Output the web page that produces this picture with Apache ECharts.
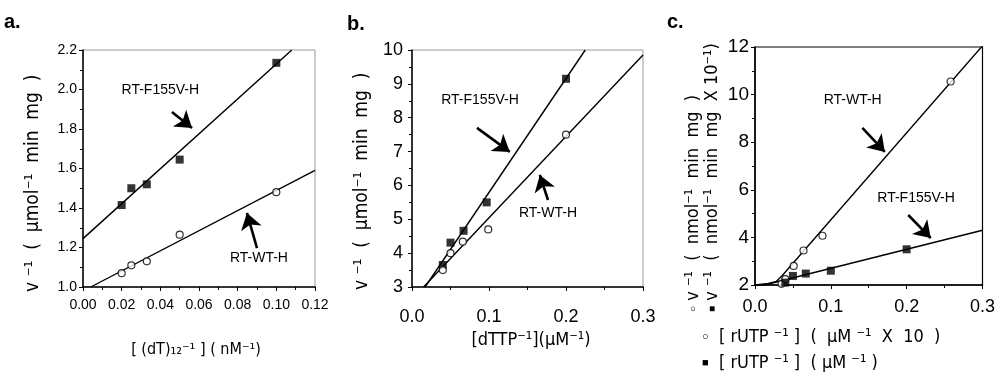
<!DOCTYPE html>
<html><head><meta charset="utf-8">
<script src="https://cdn.jsdelivr.net/npm/echarts/dist/echarts.min.js"></script>
<style>html,body{margin:0;padding:0;background:#fff}#c{width:998px;height:384px}</style>
</head><body><div id="c"></div>
<script>
// ---------- Panel a data ----------
const aX = [0.02, 0.025, 0.033, 0.05, 0.1];
const aF155V = [1.415, 1.50, 1.52, 1.645, 2.135];
const aWT = [1.07, 1.11, 1.13, 1.265, 1.48];
const aFitF155V = [[0, 1.245], [0.108, 2.2]];
const aFitWT = [[0.004, 1.0], [0.12, 1.59]];

// ---------- Panel b data ----------
const bX = [0.04, 0.05, 0.067, 0.097, 0.2];
const bF155V = [3.65, 4.31, 4.66, 5.5, 9.15];
const bXWT = [0.04, 0.05, 0.066, 0.099, 0.2];
const bWT = [3.5, 4.0, 4.34, 4.7, 7.5];
const bFitF155V = [[0.017, 3.0], [0.225, 10.0]];
const bFitWT = [[0.015, 3.0], [0.3, 9.85]];

// ---------- Panel c data ----------
const cXWT = [0.035, 0.04, 0.051, 0.064, 0.089, 0.258];
const cWT = [2.05, 2.25, 2.8, 3.45, 4.07, 10.55];
const cXF155V = [0.04, 0.05, 0.067, 0.1, 0.2];
const cF155V = [2.1, 2.38, 2.48, 2.6, 3.5];
const cFitWT = [[0.0, 2.0], [0.015, 2.05], [0.028, 2.15], [0.036, 2.4], [0.3, 12.05]];
const cFitF155V = [[0.0, 2.0], [0.0125, 2.0], [0.3, 4.3]];

// ---------- tick labels / ranges ----------
const aXTicks = {min: 0, max: 0.12, interval: 0.02, digits: 2};
const aYTicks = {min: 1.0, max: 2.2, interval: 0.2, digits: 1};
const bXTicks = {min: 0, max: 0.3, interval: 0.1, digits: 1};
const bYTicks = {min: 3, max: 10, interval: 1, digits: 0};
const cXTicks = {min: 0, max: 0.3, interval: 0.1, digits: 1};
const cYTicks = {min: 2, max: 12, interval: 2, digits: 0};

const labelF155V = 'RT-F155V-H';
const labelWT = 'RT-WT-H';

const FONT = "'Liberation Sans', Arial, sans-serif";
const NARROW = "'Liberation Sans Narrow', 'DejaVu Sans Condensed', 'Liberation Sans', sans-serif";

function xAxisOf(gi, t, fs, margin) {
  return {
    type: 'value', gridIndex: gi, min: t.min, max: t.max, interval: t.interval,
    axisLine: {onZero: false, lineStyle: {color: '#000', width: 1.5}},
    axisTick: {show: true, length: 4, lineStyle: {color: '#000', width: 1}},
    minorTick: {show: true, splitNumber: 2, length: 3, lineStyle: {color: '#000', width: 1}},
    splitLine: {show: false}, minorSplitLine: {show: false},
    axisLabel: {color: '#000', fontFamily: FONT, fontSize: fs, margin: margin,
      formatter: v => Number(v).toFixed(t.digits)}
  };
}
function yAxisOf(gi, t, fs, margin, minor) {
  return {
    type: 'value', gridIndex: gi, min: t.min, max: t.max, interval: t.interval,
    axisLine: {onZero: false, lineStyle: {color: '#000', width: 1.5}},
    axisTick: {show: true, length: 4, lineStyle: {color: '#000', width: 1}},
    minorTick: {show: minor, splitNumber: 2, length: 3, lineStyle: {color: '#000', width: 1}},
    splitLine: {show: false}, minorSplitLine: {show: false},
    axisLabel: {color: '#000', fontFamily: FONT, fontSize: fs, margin: margin,
      formatter: v => Number(v).toFixed(t.digits)}
  };
}
function zip(xs, ys) { return xs.map((x, i) => [x, ys[i]]); }
function squares(gi, xs, ys, size) {
  return {type: 'scatter', xAxisIndex: gi, yAxisIndex: gi, data: zip(xs, ys), symbol: 'rect',
    symbolSize: size, itemStyle: {color: '#000'}, z: 5, silent: true};
}
function circles(gi, xs, ys, size) {
  return {type: 'scatter', xAxisIndex: gi, yAxisIndex: gi, data: zip(xs, ys), symbol: 'circle',
    symbolSize: size, itemStyle: {color: '#fff', borderColor: '#000', borderWidth: 1.2}, z: 5, silent: true};
}
function annotation(text, coord) {
  return {coord: coord, value: text, symbol: 'circle', symbolSize: 1,
    itemStyle: {color: 'rgba(0,0,0,0)'},
    label: {show: true, position: 'inside', formatter: text, color: '#000', fontFamily: FONT, fontSize: 14}};
}
function fitLine(gi, data, arrows, notes) {
  return {type: 'line', xAxisIndex: gi, yAxisIndex: gi, data: data, symbol: 'none', silent: true,
    lineStyle: {color: '#000', width: 1.4}, z: 3,
    markLine: {silent: true, symbol: ['none', 'arrow'], symbolSize: 16,
      itemStyle: {color: '#000'},
      lineStyle: {color: '#000', width: 2.6, type: 'solid'}, label: {show: false},
      data: arrows.map(a => [{coord: a[0]}, {coord: a[1]}]), animation: false},
    markPoint: {silent: true, data: notes, animation: false}
  };
}

const option = {
  animation: false,
  backgroundColor: '#fff',
  grid: [
    {left: 83, top: 50, width: 232, height: 237, show: true, borderColor: '#999', borderWidth: 1},
    {left: 412, top: 50, width: 231, height: 237, show: true, borderColor: '#999', borderWidth: 1},
    {left: 755, top: 47, width: 233, height: 238, show: true, borderColor: '#000', borderWidth: 1.2}
  ],
  xAxis: [xAxisOf(0, aXTicks, 14, 11), xAxisOf(1, bXTicks, 18, 21), xAxisOf(2, cXTicks, 18, 13)],
  yAxis: [yAxisOf(0, aYTicks, 14, 6, true), yAxisOf(1, bYTicks, 18, 9, true), yAxisOf(2, cYTicks, 19, 6, true)],
  series: [
    // panel a
    fitLine(0, aFitF155V, [[[0.046, 1.886], [0.0564, 1.805]]], [annotation(labelF155V, [0.040, 1.997])]),
    fitLine(0, aFitWT, [[[0.090, 1.197], [0.0848, 1.375]]], [annotation(labelWT, [0.091, 1.147])]),
    squares(0, aX, aF155V, 8),
    circles(0, aX, aWT, 7),
    // panel b
    fitLine(1, bFitF155V, [[[0.0844, 7.70], [0.127, 6.99]]], [annotation(labelF155V, [0.0883, 8.52])]),
    fitLine(1, bFitWT, [[[0.1766, 5.57], [0.166, 6.31]]], [annotation(labelWT, [0.1766, 5.19])]),
    squares(1, bX, bF155V, 8),
    circles(1, bXWT, bWT, 7),
    // panel c
    fitLine(2, cFitWT, [[[0.1416, 8.60], [0.1712, 7.59]]], [annotation(labelWT, [0.1288, 9.77])]),
    fitLine(2, cFitF155V, [[[0.2021, 4.94], [0.2318, 3.97]]], [annotation(labelF155V, [0.2124, 5.66])]),
    circles(2, cXWT, cWT, 7),
    squares(2, cXF155V, cF155V, 8)
  ],
  graphic: [
    {type: 'text', left: 4, top: 12, style: {text: 'a.', font: "bold 20px " + FONT, fill: '#000'}},
    {type: 'text', left: 347, top: 14, style: {text: 'b.', font: "bold 20px " + FONT, fill: '#000'}},
    {type: 'text', left: 667, top: 12, style: {text: 'c.', font: "bold 20px " + FONT, fill: '#000'}},
    {type: 'text', x: 33, y: 292, rotation: Math.PI / 2,
      style: {text: 'v ⁻¹  (  µmol⁻¹  min  mg  )', font: "19px " + NARROW, fill: '#000', align: 'left', verticalAlign: 'middle'}},
    {type: 'text', x: 362, y: 290, rotation: Math.PI / 2,
      style: {text: 'v ⁻¹  (  µmol⁻¹  min  mg  )', font: "19px " + NARROW, fill: '#000', align: 'left', verticalAlign: 'middle'}},
    {type: 'text', x: 693, y: 312, rotation: Math.PI / 2,
      style: {text: '{m|○} v ⁻¹  (  nmol⁻¹  min  mg  )', font: "18px " + NARROW, fill: '#000', align: 'left', verticalAlign: 'middle',
        rich: {m: {fontSize: 10, fontFamily: FONT}}}},
    {type: 'text', x: 712, y: 312, rotation: Math.PI / 2,
      style: {text: '{m|■} v ⁻¹  (  nmol⁻¹  min  mg  X 10⁻¹)', font: "18px " + NARROW, fill: '#000', align: 'left', verticalAlign: 'middle',
        rich: {m: {fontSize: 10, fontFamily: FONT}}}},
    {type: 'text', x: 196, y: 350,
      style: {text: '[ (dT)₁₂⁻¹ ] ( nM⁻¹)', font: "16px " + NARROW, fill: '#000', align: 'center', verticalAlign: 'middle'}},
    {type: 'text', x: 531, y: 340,
      style: {text: '[dTTP⁻¹](µM⁻¹)', font: "18px " + NARROW, fill: '#000', align: 'center', verticalAlign: 'middle'}},
    {type: 'text', x: 702, y: 337,
      style: {text: '{m|○}  [ rUTP ⁻¹ ]  (  µM ⁻¹  X  10  )', font: "18px " + NARROW, fill: '#000', align: 'left', verticalAlign: 'middle',
        rich: {m: {fontSize: 11, fontFamily: FONT}}}},
    {type: 'text', x: 702, y: 363,
      style: {text: '{m|■}  [ rUTP ⁻¹ ]  ( µM ⁻¹ )', font: "18px " + NARROW, fill: '#000', align: 'left', verticalAlign: 'middle',
        rich: {m: {fontSize: 11, fontFamily: FONT}}}}
  ]
};
const chart = echarts.init(document.getElementById('c'), null, {renderer: 'canvas'});
chart.setOption(option);
</script>
</body></html>
